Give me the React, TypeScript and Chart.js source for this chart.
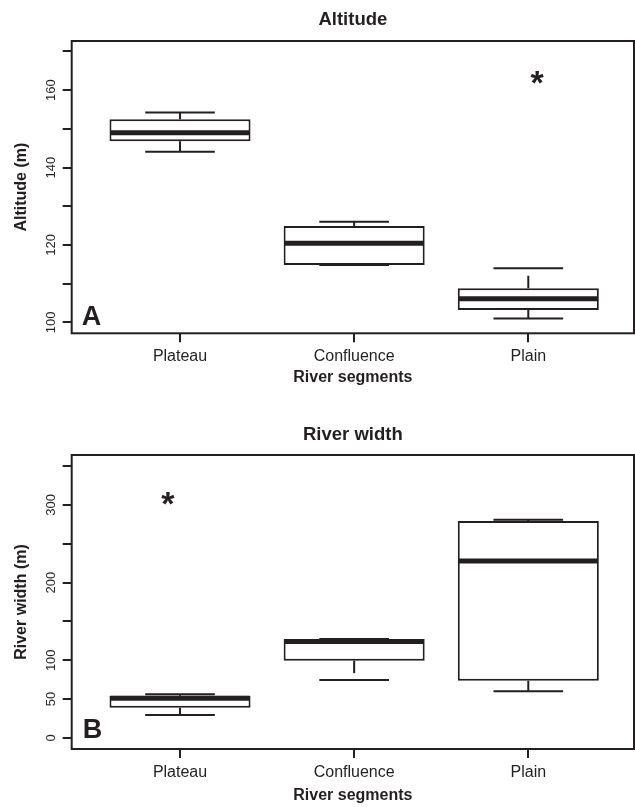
import React, { useEffect, useRef } from 'react';
import { Chart, registerables } from 'chart.js';

Chart.register(...registerables);

// ---------- data ----------
const CATEGORIES = ['Plateau', 'Confluence', 'Plain'];

// Panel A: Altitude (m)
const ALT_MIN = [144.1, 114.8, 101.0];
const ALT_Q1 = [146.8, 114.8, 103.2];
const ALT_MEDIAN = [149.0, 120.4, 106.1];
const ALT_Q3 = [152.5, 124.9, 108.8];
const ALT_MAX = [154.2, 126.0, 114.0];
const ALT_OUTLIER_X = [3.05];
const ALT_OUTLIER_Y = [164.0];
const ALT_TICK_LABELS = [100, 120, 140, 160];

// Panel B: River width (m)
const WIDTH_MIN = [29.6, 74.6, 60.1];
const WIDTH_Q1 = [39.0, 99.5, 73.7];
const WIDTH_MEDIAN = [51.1, 124.2, 227.8];
const WIDTH_Q3 = [54.4, 127.4, 279.3];
const WIDTH_MAX = [56.2, 127.4, 281.0];
const WIDTH_OUTLIER_X = [0.93];
const WIDTH_OUTLIER_Y = [312.0];
const WIDTH_TICK_LABELS = [0, 50, 100, 200, 300];

// ---------- style ----------
const INK = '#231f20';
const FONT = "'Liberation Sans', Arial, Helvetica, sans-serif";
const BOX_HALF = 0.4;
const CAP_HALF = 0.2;
const STAR_SIZE = 34;

type Spec = {
  title: string;
  yTitle: string;
  letter: string;
  min: number[];
  q1: number[];
  med: number[];
  q3: number[];
  max: number[];
  outX: number[];
  outY: number[];
  yLabels: number[];
  yMin: number;
  yMax: number;
  yStep: number;
  height: number;
  titlePadTop: number;
  titlePadBottom: number;
  xAxisHeight: number;
  xTickPad: number;
  xTitlePadBottom: number;
  letterDx: number;
  letterDy: number;
};

const SPEC_A: Spec = {
  title: 'Altitude',
  yTitle: 'Altitude (m)',
  letter: 'A',
  min: ALT_MIN,
  q1: ALT_Q1,
  med: ALT_MEDIAN,
  q3: ALT_Q3,
  max: ALT_MAX,
  outX: ALT_OUTLIER_X,
  outY: ALT_OUTLIER_Y,
  yLabels: ALT_TICK_LABELS,
  yMin: 97.16,
  yMax: 172.7,
  yStep: 10,
  height: 400,
  titlePadTop: 9.2,
  titlePadBottom: 9.6,
  xAxisHeight: 66.7,
  xTickPad: 4.9,
  xTitlePadBottom: 12.6,
  letterDx: 10,
  letterDy: 8.3,
};

const SPEC_B: Spec = {
  title: 'River width',
  yTitle: 'River width (m)',
  letter: 'B',
  min: WIDTH_MIN,
  q1: WIDTH_Q1,
  med: WIDTH_MEDIAN,
  q3: WIDTH_Q3,
  max: WIDTH_MAX,
  outX: WIDTH_OUTLIER_X,
  outY: WIDTH_OUTLIER_Y,
  yLabels: WIDTH_TICK_LABELS,
  yMin: -14.2,
  yMax: 364.2,
  yStep: 50,
  height: 407,
  titlePadTop: 24.2,
  titlePadBottom: 8.6,
  xAxisHeight: 58,
  xTickPad: 5.2,
  xTitlePadBottom: 2.2,
  letterDx: 11,
  letterDy: 10.7,
};

function makePlugin(spec: Spec) {
  return {
    id: 'boxDetails',
    afterDatasetsDraw(chart: any) {
      const ctx: CanvasRenderingContext2D = chart.ctx;
      const xs = chart.scales.x;
      const ys = chart.scales.y;
      ctx.save();
      ctx.strokeStyle = INK;
      ctx.lineCap = 'butt';
      for (let i = 0; i < CATEGORIES.length; i++) {
        const c = i + 1;
        const xc = xs.getPixelForValue(c);
        // whiskers (dashed, from box outwards)
        ctx.lineWidth = 2;
        ctx.setLineDash([12.5, 7.5]);
        ctx.beginPath();
        ctx.moveTo(xc, ys.getPixelForValue(spec.q3[i]));
        ctx.lineTo(xc, ys.getPixelForValue(spec.max[i]));
        ctx.moveTo(xc, ys.getPixelForValue(spec.q1[i]));
        ctx.lineTo(xc, ys.getPixelForValue(spec.min[i]));
        ctx.stroke();
        ctx.setLineDash([]);
        // caps
        const cl = xs.getPixelForValue(c - CAP_HALF);
        const cr = xs.getPixelForValue(c + CAP_HALF);
        ctx.beginPath();
        ctx.moveTo(cl, ys.getPixelForValue(spec.max[i]));
        ctx.lineTo(cr, ys.getPixelForValue(spec.max[i]));
        ctx.moveTo(cl, ys.getPixelForValue(spec.min[i]));
        ctx.lineTo(cr, ys.getPixelForValue(spec.min[i]));
        ctx.stroke();
        // median
        ctx.lineWidth = 5;
        ctx.beginPath();
        ctx.moveTo(xs.getPixelForValue(c - BOX_HALF), ys.getPixelForValue(spec.med[i]));
        ctx.lineTo(xs.getPixelForValue(c + BOX_HALF), ys.getPixelForValue(spec.med[i]));
        ctx.stroke();
      }
      // outliers as asterisks
      const meta = chart.getDatasetMeta(1);
      ctx.fillStyle = INK;
      ctx.font = `bold ${STAR_SIZE}px ${FONT}`;
      ctx.textAlign = 'center';
      ctx.textBaseline = 'alphabetic';
      meta.data.forEach((el: any) => {
        ctx.fillText('*', el.x, el.y + 0.58 * STAR_SIZE);
      });
      ctx.restore();
    },
    afterDraw(chart: any) {
      const ctx: CanvasRenderingContext2D = chart.ctx;
      const a = chart.chartArea;
      const ys = chart.scales.y;
      ctx.save();
      // frame
      ctx.strokeStyle = INK;
      ctx.lineWidth = 2;
      ctx.strokeRect(a.left, a.top, a.right - a.left, a.bottom - a.top);
      // y tick labels (rotated)
      ctx.fillStyle = INK;
      ctx.font = `13px ${FONT}`;
      ctx.textAlign = 'center';
      ctx.textBaseline = 'middle';
      spec.yLabels.forEach((v) => {
        const y = ys.getPixelForValue(v);
        ctx.save();
        ctx.translate(51.7, y);
        ctx.rotate(-Math.PI / 2);
        ctx.fillText(String(v), 0, 0);
        ctx.restore();
      });
      // panel letter
      ctx.font = `bold 27px ${FONT}`;
      ctx.textAlign = 'left';
      ctx.textBaseline = 'alphabetic';
      ctx.fillText(spec.letter, a.left + spec.letterDx, a.bottom - spec.letterDy);
      ctx.restore();
    },
  };
}

function makeConfig(spec: Spec): any {
  return {
    type: 'bar',
    data: {
      datasets: [
        {
          type: 'bar',
          data: CATEGORIES.map((_, i) => ({ x: i + 1, y: [spec.q1[i], spec.q3[i]] })),
          backgroundColor: '#ffffff',
          borderColor: INK,
          borderWidth: 2,
          borderSkipped: false,
          categoryPercentage: 1,
          barPercentage: 0.81,
        },
        {
          type: 'scatter',
          data: spec.outX.map((x, i) => ({ x, y: spec.outY[i] })),
          pointRadius: 0,
          pointHoverRadius: 0,
        },
      ],
    },
    options: {
      animation: false,
      responsive: false,
      events: [],
      layout: { padding: { left: 0, right: 1, top: 0, bottom: 0 } },
      plugins: {
        legend: { display: false },
        tooltip: { enabled: false },
        title: {
          display: true,
          text: spec.title,
          color: INK,
          fullSize: false,
          font: { family: FONT, size: 18.5, weight: 'bold', lineHeight: 1.2 },
          padding: { top: spec.titlePadTop, bottom: spec.titlePadBottom },
        },
      },
      scales: {
        x: {
          type: 'linear',
          min: 0.378,
          max: 3.607,
          offset: false,
          grid: { offset: false, drawOnChartArea: false, drawTicks: true, tickLength: 9, lineWidth: 2, color: INK },
          border: { display: false },
          ticks: {
            stepSize: 1,
            includeBounds: false,
            autoSkip: false,
            maxRotation: 0,
            minRotation: 0,
            padding: spec.xTickPad,
            color: INK,
            font: { family: FONT, size: 16, lineHeight: 1.2 },
            callback: (v: number) => CATEGORIES[Math.round(v) - 1] ?? '',
          },
          title: {
            display: true,
            text: 'River segments',
            color: INK,
            font: { family: FONT, size: 16, weight: 'bold', lineHeight: 1.2 },
            padding: { top: 0, bottom: spec.xTitlePadBottom },
          },
          afterFit: (s: any) => {
            s.height = spec.xAxisHeight;
          },
        },
        y: {
          type: 'linear',
          min: spec.yMin,
          max: spec.yMax,
          grid: { drawOnChartArea: false, drawTicks: true, tickLength: 9, lineWidth: 2, color: INK },
          border: { display: false },
          ticks: { display: false, stepSize: spec.yStep, includeBounds: false },
          title: {
            display: true,
            text: spec.yTitle,
            color: INK,
            font: { family: FONT, size: 16, weight: 'bold', lineHeight: 1.2 },
            padding: { top: 12.1, bottom: 0 },
          },
          afterFit: (s: any) => {
            s.width = 71.7;
          },
        },
      },
    },
    plugins: [makePlugin(spec)],
  };
}

function BoxPanel({ spec }: { spec: Spec }) {
  const ref = useRef<HTMLCanvasElement | null>(null);
  useEffect(() => {
    if (!ref.current) return;
    const chart = new Chart(ref.current, makeConfig(spec));
    return () => chart.destroy();
  }, [spec]);
  return (
    <div style={{ width: 635, height: spec.height, position: 'relative' }}>
      <canvas ref={ref} width={635} height={spec.height} style={{ display: 'block', width: 635, height: spec.height }} />
    </div>
  );
}

export default function App() {
  return (
    <div style={{ position: 'absolute', left: 0, top: 0, width: 635, height: 807, background: '#ffffff' }}>
      <BoxPanel spec={SPEC_A} />
      <BoxPanel spec={SPEC_B} />
    </div>
  );
}
